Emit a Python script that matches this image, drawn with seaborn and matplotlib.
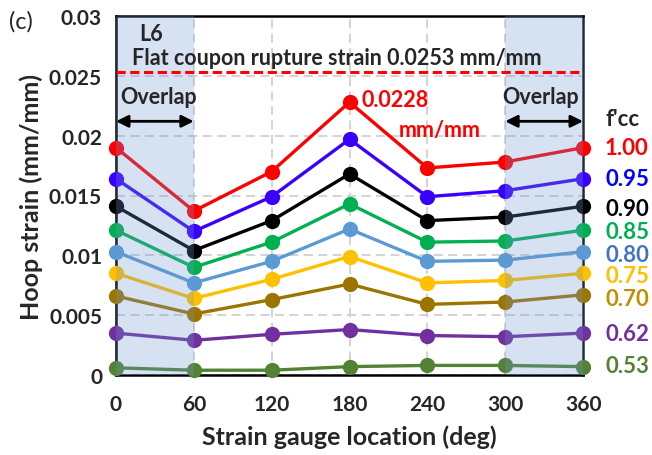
import numpy as np
import pandas as pd
import matplotlib
matplotlib.use("Agg")
import matplotlib.pyplot as plt
import seaborn as sns

# ---- data ----
angles = [0, 60, 120, 180, 240, 300, 360]
series_labels = ["1.00", "0.95", "0.90", "0.85", "0.80", "0.75", "0.70", "0.62", "0.53"]
s100 = [0.0190, 0.0137, 0.0170, 0.0228, 0.0173, 0.0178, 0.0190]
s095 = [0.0164, 0.0120, 0.0149, 0.0197, 0.0149, 0.0154, 0.0164]
s090 = [0.0141, 0.0104, 0.0129, 0.0168, 0.0129, 0.0132, 0.0141]
s085 = [0.0121, 0.0090, 0.0111, 0.0143, 0.0111, 0.0112, 0.0121]
s080 = [0.0103, 0.0077, 0.0095, 0.0122, 0.0095, 0.0096, 0.0103]
s075 = [0.0085, 0.0064, 0.0080, 0.0099, 0.0077, 0.0079, 0.0085]
s070 = [0.0066, 0.0051, 0.0063, 0.0076, 0.0059, 0.0061, 0.0067]
s062 = [0.0035, 0.0029, 0.0034, 0.0038, 0.0033, 0.0032, 0.0035]
s053 = [0.0006, 0.0004, 0.0004, 0.0007, 0.0008, 0.0008, 0.0007]
all_series = [s100, s095, s090, s085, s080, s075, s070, s062, s053]
line_colors = ["#FF0000", "#3A00FF", "#000000", "#00B050", "#5B9BD5",
               "#FFC000", "#9C7400", "#7030A0", "#548235"]
label_colors = ["#FF0000", "#0000FF", "#000000", "#00B050", "#4472C4",
                "#FFC000", "#BF9000", "#7030A0", "#548235"]
label_y_px = [149, 180, 210, 233, 255, 277, 300, 335, 367]
xticks = [0, 60, 120, 180, 240, 300, 360]
yticks = [0, 0.005, 0.01, 0.015, 0.02, 0.025, 0.03]
ytick_labels = ["0", "0.005", "0.01", "0.015", "0.02", "0.025", "0.03"]
rupture = 0.0253
peak_val = 0.0228

rows = []
for lab, vals in zip(series_labels, all_series):
    for a, v in zip(angles, vals):
        rows.append({"angle": a, "strain": v, "fcc": lab})
df = pd.DataFrame(rows)

sns.set_style("white")
plt.rcParams["font.family"] = ["Lato", "DejaVu Sans"]

W, H = 652, 456
fig = plt.figure(figsize=(W / 100, H / 100), dpi=100)
ax = fig.add_axes([116 / W, 1 - 376 / H, (583 - 116) / W, (376 - 17) / H])

sns.lineplot(data=df, x="angle", y="strain", hue="fcc", hue_order=series_labels,
             palette=dict(zip(series_labels, line_colors)), marker="o",
             markersize=11, markeredgewidth=0, linewidth=2.4, legend=False,
             sort=False, ax=ax, clip_on=False, zorder=3)
for ln in ax.lines:
    ln.set_clip_on(False)

TF = 15
ax.set_xlim(0, 360)
ax.set_ylim(0, 0.03)
ax.set_xticks(xticks)
ax.set_xticklabels([str(t) for t in xticks], fontsize=TF, fontweight="bold")
ax.set_yticks(yticks)
ax.set_yticklabels(ytick_labels, fontsize=TF, fontweight="bold")
ax.tick_params(axis="x", length=0, pad=14)
ax.tick_params(axis="y", length=5, width=1.2, direction="out", pad=5)
ax.grid(True, color="#D0D0D0", linestyle=(0, (5, 3)), linewidth=1.3)
ax.set_axisbelow(True)
for sp in ax.spines.values():
    sp.set_color("black")
    sp.set_linewidth(1.8)
ax.spines["right"].set_color("#1F2A36")

ax.set_xlabel("Strain gauge location (deg)", fontsize=18, fontweight="bold", labelpad=7)
ax.set_ylabel("Hoop strain (mm/mm)", fontsize=18, fontweight="bold", labelpad=4)

# overlap shading (drawn on top)
ax.axvspan(0, 60, color="#6E96CD", alpha=0.28, zorder=4, lw=0)
ax.axvspan(300, 360, color="#6E96CD", alpha=0.28, zorder=4, lw=0)

# rupture line
ax.axhline(rupture, color="#FF0000", linestyle=(0, (3, 1.5)), linewidth=2.2, zorder=5)

AF = 15.5
ax.text(18, 0.0285, "L6", fontsize=AF, fontweight="bold", ha="left", va="center", zorder=6)
ax.text(12, 0.02655, "Flat coupon rupture strain 0.0253 mm/mm", fontsize=AF,
        fontweight="bold", ha="left", va="center", zorder=6)
ax.text(3, 0.0233, "Overlap", fontsize=AF, fontweight="bold", ha="left", va="center", zorder=6)
ax.text(357, 0.0233, "Overlap", fontsize=AF, fontweight="bold", ha="right", va="center", zorder=6)
for x0, x1 in [(0, 60), (300, 360)]:
    ax.annotate("", xy=(x1, 0.0212), xytext=(x0, 0.0212),
                arrowprops=dict(arrowstyle="<|-|>", color="black", lw=2,
                                mutation_scale=18, shrinkA=0, shrinkB=0), zorder=6)
ax.text(189, 0.02305, "0.0228", fontsize=AF, fontweight="bold", color="#FF0000",
        ha="left", va="center", zorder=6)
ax.text(218, 0.02054, "mm/mm", fontsize=AF, fontweight="bold", color="#FF0000",
        ha="left", va="center", zorder=6)

# right-side labels
fig.text(606 / W, 1 - 119 / H, "f'cc", fontsize=16, fontweight="bold",
         ha="left", va="center")
for lab, c, ypx in zip(series_labels, label_colors, label_y_px):
    fig.text(605 / W, 1 - ypx / H, lab, fontsize=16, fontweight="bold",
             color=c, ha="left", va="center")

fig.text(9 / W, 1 - 22 / H, "(c)", fontsize=17, ha="left", va="center")

fig.savefig("out.png", dpi=100)
